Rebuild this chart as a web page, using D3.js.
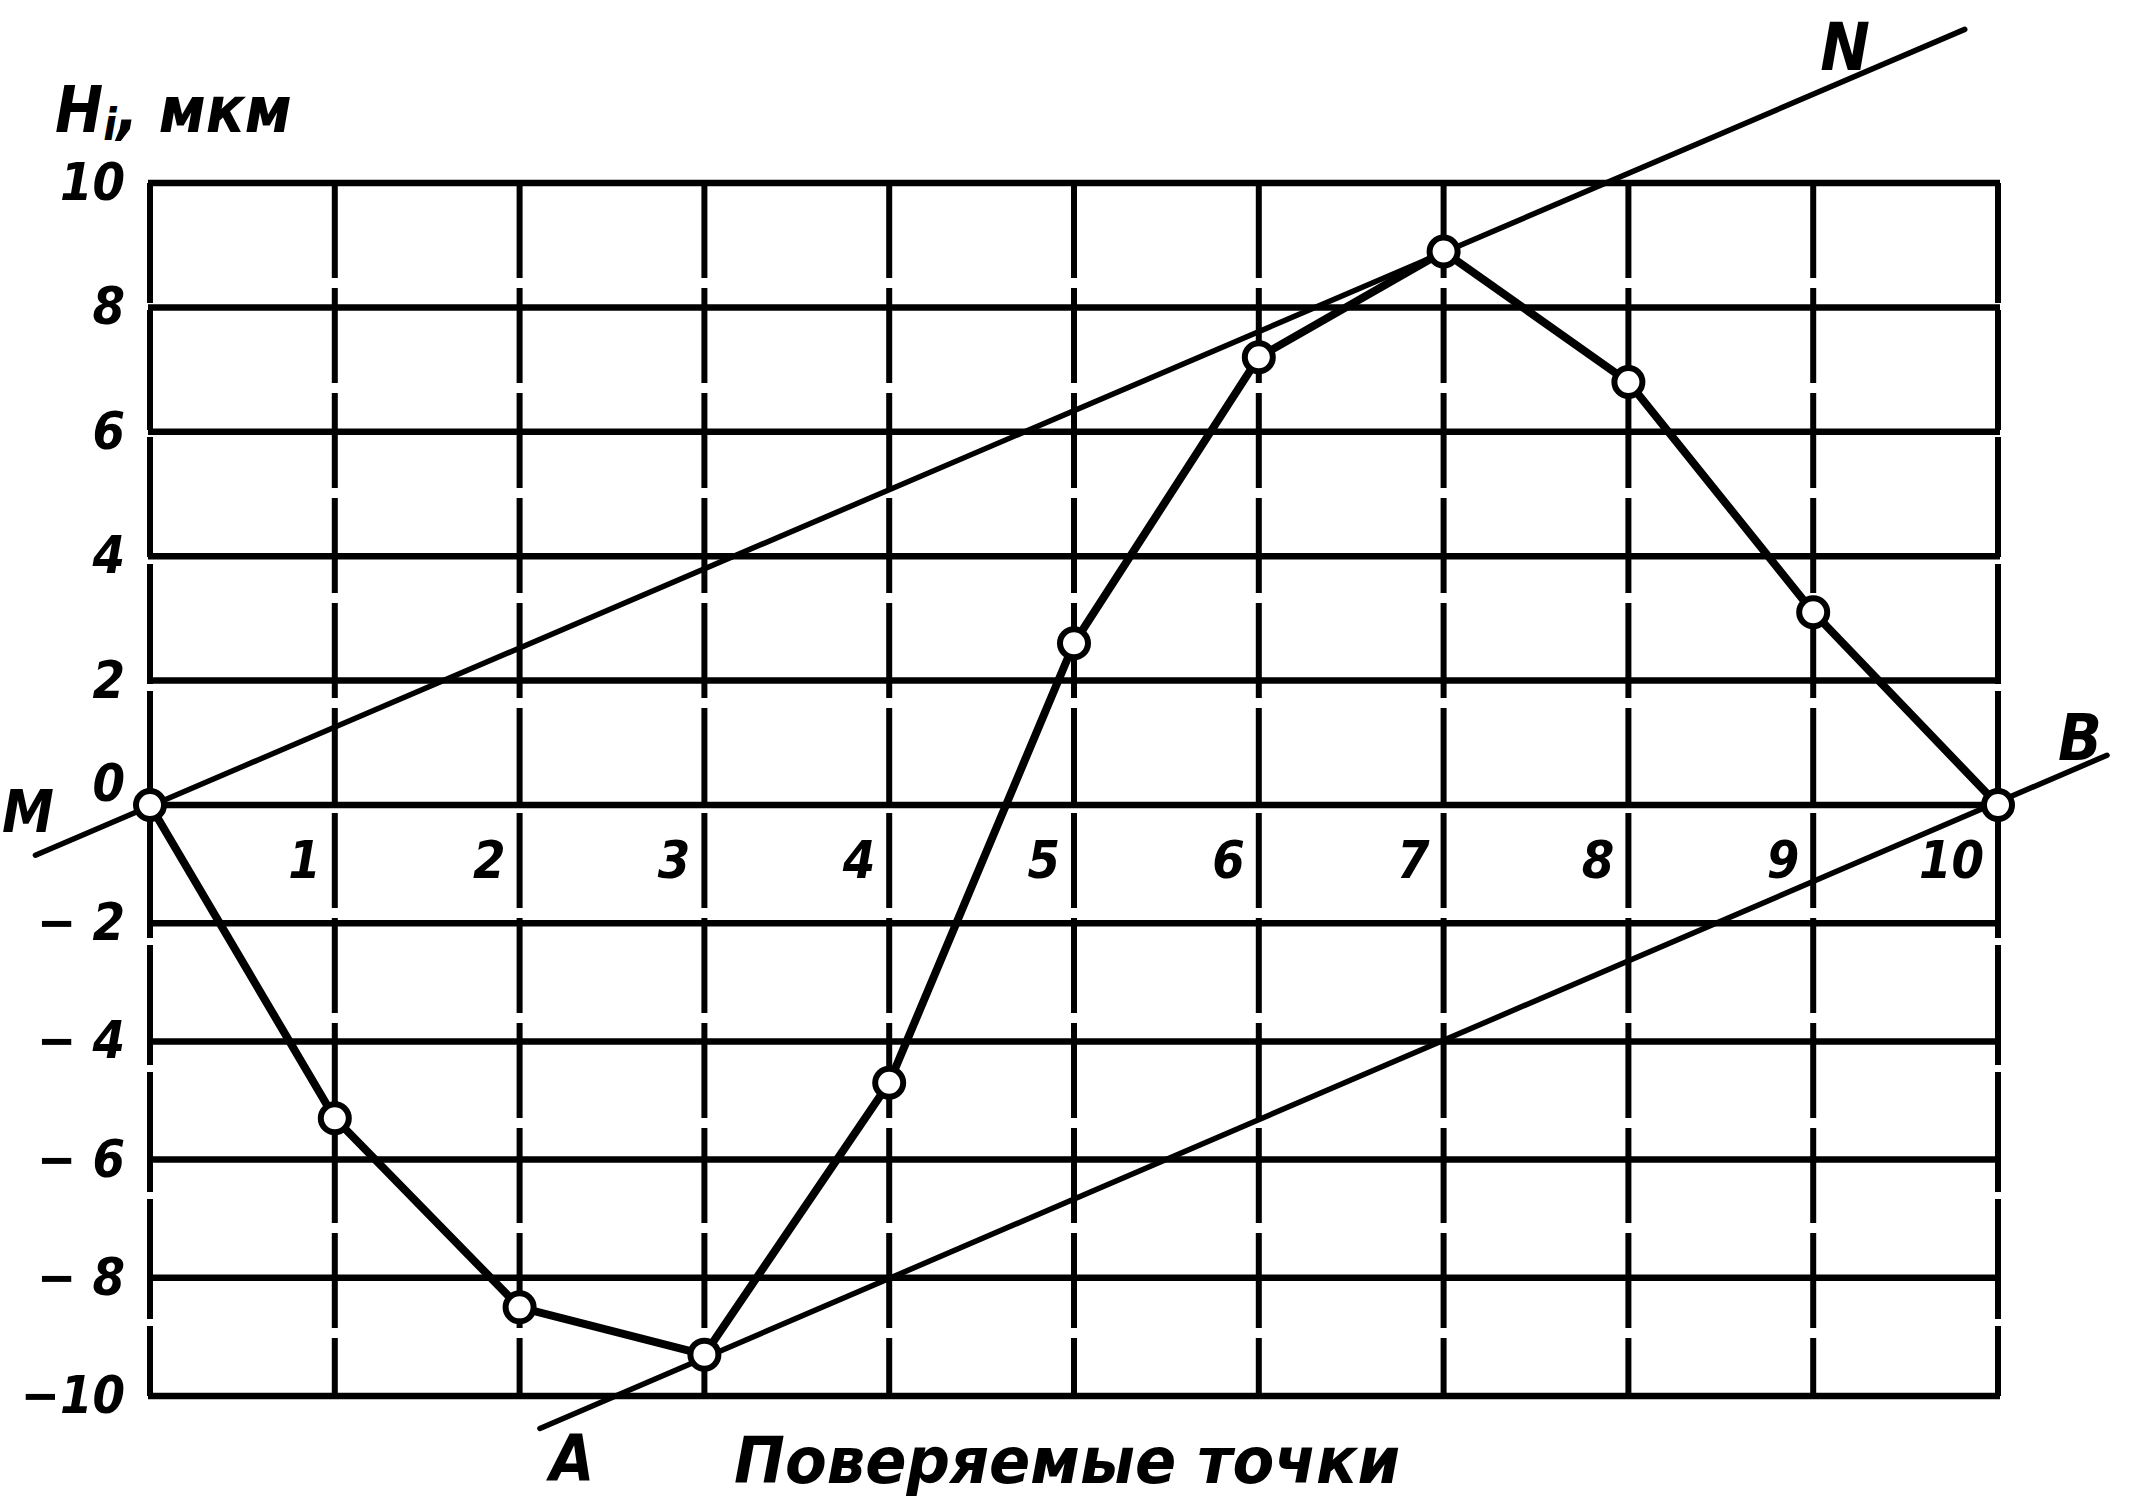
<!DOCTYPE html>
<html>
<head>
<meta charset="utf-8">
<script src="https://cdn.jsdelivr.net/npm/d3@7"></script>
<style>
  html, body { margin: 0; padding: 0; background: #fff; }
  svg { display: block; }
  text { font-family: "Liberation Sans Narrow", "DejaVu Sans Condensed", "Liberation Sans", sans-serif; font-style: italic; font-weight: bold; fill: #000; }
</style>
</head>
<body>
<svg id="chart" width="2131" height="1502"></svg>
<script>
// ---- data ----
const pointIndex = [0, 1, 2, 3, 4, 5, 6, 7, 8, 9, 10];
const hValues = [0, -5.3, -8.5, -9.3, -4.7, 2.6, 7.2, 8.9, 6.8, 3.1, 0];
const yTicks = [10, 8, 6, 4, 2, 0, -2, -4, -6, -8, -10];
const yTickLabels = ["10", "8", "6", "4", "2", "0", "− 2", "− 4", "− 6", "− 8", "−10"];
const xTicks = [1, 2, 3, 4, 5, 6, 7, 8, 9, 10];
const xTickLabels = ["1", "2", "3", "4", "5", "6", "7", "8", "9", "10"];
// reference lines (endpoints in data units)
const lineMN = [[-0.62, -0.85], [9.82, 12.47]];
const lineAB = [[2.11, -10.55], [10.59, 0.8]];
const yTitle = ["H", "i", ", мкм"];
const xTitle = "Поверяемые точки";

// ---- layout ----
const svg = d3.select("#chart");
const x = d3.scaleLinear().domain([0, 10]).range([150, 1998]);
const y = d3.scaleLinear().domain([-10, 0, 10]).range([1396, 805, 183]);

// grid: horizontal lines
const g = svg.append("g");
g.selectAll("line.h").data(yTicks).join("line")
  .attr("x1", x(0) - 2).attr("x2", x(10) + 2)
  .attr("y1", d => y(d)).attr("y2", d => y(d))
  .attr("stroke", "#000").attr("stroke-width", 6.5);

// vertical lines (slightly broken, hand-drawn look)
g.selectAll("line.v").data(pointIndex).join("line")
  .attr("x1", d => x(d)).attr("x2", d => x(d))
  .attr("y1", y(10)).attr("y2", y(-10))
  .attr("stroke", "#000").attr("stroke-width", 6)
  .attr("stroke-dasharray", d => (d === 0 || d === 10) ? "120 7" : "95 10");

// reference lines MN and AB
const lineGen = d3.line().x(d => x(d[0])).y(d => y(d[1]));
svg.append("path").attr("d", lineGen(lineMN))
  .attr("fill", "none").attr("stroke", "#000").attr("stroke-width", 5.5)
  .attr("stroke-linecap", "round");
svg.append("path").attr("d", lineGen(lineAB))
  .attr("fill", "none").attr("stroke", "#000").attr("stroke-width", 5.5)
  .attr("stroke-linecap", "round");

// profile curve
const pts = pointIndex.map((d, i) => [d, hValues[i]]);
svg.append("path").attr("d", lineGen(pts))
  .attr("fill", "none").attr("stroke", "#000").attr("stroke-width", 8)
  .attr("stroke-linejoin", "round");

svg.selectAll("circle.pt").data(pts).join("circle")
  .attr("cx", d => x(d[0])).attr("cy", d => y(d[1])).attr("r", 14)
  .attr("fill", "#fff").attr("stroke", "#000").attr("stroke-width", 6);

// y axis tick labels
svg.selectAll("text.yt").data(yTicks).join("text")
  .attr("x", 125)
  .attr("y", d => y(d) + (d === 0 ? -4 : 17))
  .attr("text-anchor", "end")
  .attr("font-size", 52)
  .text((d, i) => yTickLabels[i]);

// x axis tick labels (below zero line, left of grid line)
svg.selectAll("text.xt").data(xTicks).join("text")
  .attr("x", d => x(d) - 14)
  .attr("y", y(0) + 73)
  .attr("text-anchor", "end")
  .attr("font-size", 52)
  .text((d, i) => xTickLabels[i]);

// y title
const yt = svg.append("text").attr("x", 55).attr("y", 132).attr("font-size", 64);
yt.append("tspan").text(yTitle[0]);
yt.append("tspan").attr("font-size", 44).attr("dy", 8).text(yTitle[1]);
yt.append("tspan").attr("dy", -8).text(yTitle[2]);

// x title
svg.append("text").attr("x", 734).attr("y", 1483)
  .attr("font-size", 64)
  .attr("textLength", 666).attr("lengthAdjust", "spacingAndGlyphs")
  .text(xTitle);

// line labels
svg.append("text").attr("x", 2).attr("y", 832).attr("font-size", 58).attr("text-anchor", "start").text("M");
svg.append("text").attr("x", 1845).attr("y", 70).attr("font-size", 66).attr("text-anchor", "middle").text("N");
svg.append("text").attr("x", 572).attr("y", 1481).attr("font-size", 64).attr("text-anchor", "middle").text("А");
svg.append("text").attr("x", 2080).attr("y", 760).attr("font-size", 64).attr("text-anchor", "middle").text("В");
</script>
</body>
</html>
